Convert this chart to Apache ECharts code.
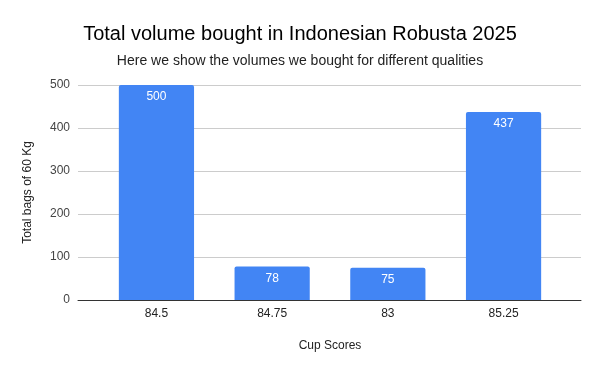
<!DOCTYPE html>
<html><head><meta charset="utf-8">
<script src="https://cdn.jsdelivr.net/npm/echarts@6/dist/echarts.min.js"></script>
<style>html,body{margin:0;padding:0;background:#fff}#c{width:600px;height:371px}</style>
</head><body><div id="c"></div>
<script>
const categories = ["84.5", "84.75", "83", "85.25"];
const bagValues = [500, 78, 75, 437];
const yTicks = [0, 100, 200, 300, 400, 500];

const FONT = '"Liberation Sans", Arial, sans-serif';
const chart = echarts.init(document.getElementById('c'), null, {renderer: 'canvas'});
const yMin = yTicks[0], yMax = yTicks[yTicks.length - 1], yStep = yTicks[1] - yTicks[0];
chart.setOption({
  animation: false,
  backgroundColor: '#ffffff',
  title: [
    {text: 'Total volume bought in Indonesian Robusta 2025', left: 'center', top: 19,
     textStyle: {fontFamily: FONT, fontSize: 20, fontWeight: 'normal', color: '#000'}},
    {text: 'Here we show the volumes we bought for different qualities', left: 'center', top: 49,
     textStyle: {fontFamily: FONT, fontSize: 14, fontWeight: 'normal', color: '#222'}}
  ],
  grid: [
    {left: 78, right: 19, top: 85, bottom: 71, containLabel: false},
    {left: 98.6, right: 38.6, top: 85, bottom: 71, containLabel: false}
  ],
  xAxis: [
    {gridIndex: 0, type: 'value', min: 0, max: 1, show: true,
     axisLine: {show: true, onZero: false, lineStyle: {color: '#333', width: 1}},
     axisTick: {show: false}, axisLabel: {show: false}, splitLine: {show: false}},
    {gridIndex: 1, type: 'category', data: categories,
     name: 'Cup Scores', nameLocation: 'middle', nameGap: 40,
     nameTextStyle: {fontFamily: FONT, fontSize: 12, color: '#222'},
     axisLine: {show: false}, axisTick: {show: false},
     axisLabel: {fontFamily: FONT, fontSize: 12, color: '#222', margin: 8}}
  ],
  yAxis: [
    {gridIndex: 0, type: 'value', min: yMin, max: yMax, interval: yStep,
     name: 'Total bags of 60 Kg', nameLocation: 'middle', nameGap: 44,
     nameTextStyle: {fontFamily: FONT, fontSize: 12, color: '#222'},
     axisLine: {show: false}, axisTick: {show: false},
     axisLabel: {fontFamily: FONT, fontSize: 12, color: '#444', margin: 8},
     splitLine: {show: true, lineStyle: {color: '#cccccc', width: 1}}},
    {gridIndex: 1, type: 'value', min: yMin, max: yMax, interval: yStep, show: false,
     splitLine: {show: false}}
  ],
  series: [{
    type: 'bar', xAxisIndex: 1, yAxisIndex: 1, data: bagValues,
    barWidth: '65%',
    itemStyle: {color: '#4285F4', borderRadius: [2, 2, 0, 0]},
    label: {show: true, position: 'insideTop', distance: 6, color: '#ffffff',
            fontFamily: FONT, fontSize: 12}
  }]
});
</script></body></html>
